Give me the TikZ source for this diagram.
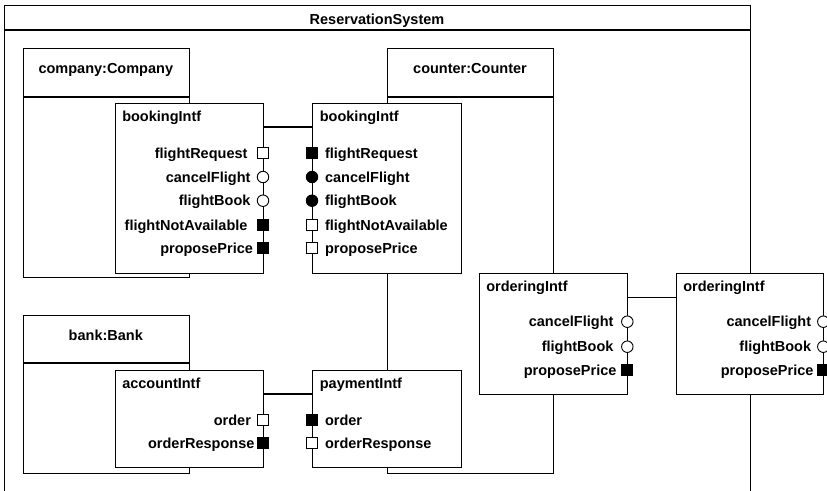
\documentclass[tikz,border=0pt]{standalone}
\usepackage{fontspec}
\setmainfont{Liberation Sans}
\begin{document}
\begin{tikzpicture}[x=1pt,y=-1pt, line width=1.1pt,
  lbl/.style={font=\fontsize{14.5}{16}\selectfont\bfseries, inner sep=0pt},
  box/.style={draw, fill=white, anchor=north west, inner sep=0pt},
  sqw/.style={draw, fill=white, minimum size=11pt, inner sep=0pt, line width=0.9pt},
  sqb/.style={sqw, fill=black},
  ciw/.style={draw, circle, fill=white, minimum size=11.5pt, inner sep=0pt, line width=0.9pt},
  cib/.style={ciw, fill=black},
  divider/.style={line width=1.1pt},
  headdiv/.style={line width=2pt},
]
\clip (0,0) rectangle (827,490);
\fill[white] (0,0) rectangle (827,490);

% system frame
\node[box, minimum width=746pt, minimum height=540pt] (sys) at (4,5) {};
\draw[headdiv] ([yshift=-25pt]sys.north west) -- ([yshift=-25pt]sys.north east);
\node[lbl, anchor=base] (systitle) at (377,24) {ReservationSystem};

% components
\node[box, minimum width=166.3pt, minimum height=229pt] (company) at (22.7,48) {};
\draw[divider] ([yshift=-49pt]company.north west) -- ([yshift=-49pt]company.north east);
\node[lbl, anchor=base] (companyt) at (105.8,73.3) {company:Company};

\node[box, minimum width=166pt, minimum height=425pt] (counter) at (387,48) {};
\draw[divider] ([yshift=-49pt]counter.north west) -- ([yshift=-49pt]counter.north east);
\node[lbl, anchor=base] (countert) at (470,73.3) {counter:Counter};

\node[box, minimum width=166.3pt, minimum height=158pt] (bank) at (22.7,315) {};
\draw[divider] ([yshift=-48pt]bank.north west) -- ([yshift=-48pt]bank.north east);
\node[lbl, anchor=base] (bankt) at (105.8,340.7) {bank:Bank};

% interface boxes
\node[box, minimum width=148pt, minimum height=170pt] (bi1) at (115,103) {};
\node[box, minimum width=148.7pt, minimum height=170pt] (bi2) at (312,103) {};
\node[box, minimum width=148pt, minimum height=97pt] (acc) at (115,370) {};
\node[box, minimum width=148.7pt, minimum height=97pt] (pay) at (312,370) {};
\node[box, minimum width=148.3pt, minimum height=121pt] (ord1) at (479,273) {};
\node[box, minimum width=147pt, minimum height=121pt] (ord2) at (676.3,273) {};

\node[lbl, anchor=base west] (bi1t) at (121.7,121.5) {bookingIntf};
\node[lbl, anchor=base west] (bi2t) at (319.3,121.5) {bookingIntf};
\node[lbl, anchor=base west] (acct) at (121.7,388.5) {accountIntf};
\node[lbl, anchor=base west] (payt) at (319.3,388.5) {paymentIntf};
\node[lbl, anchor=base west] (ord1t) at (485.7,291.5) {orderingIntf};
\node[lbl, anchor=base west] (ord2t) at (682.7,291.5) {orderingIntf};

% connectors
\draw ([yshift=-24pt]bi1.north east) -- ([yshift=-24pt]bi2.north west);
\draw ([yshift=-24pt]acc.north east) -- ([yshift=-24pt]pay.north west);
\draw ([yshift=-24.3pt]ord1.north east) -- ([yshift=-24.3pt]ord2.north west);

% ports: bookingIntf (company)
\node[sqw] (p11) at (263,153) {};
\node[ciw] (p12) at (263,177) {};
\node[ciw] (p13) at (263,200.7) {};
\node[sqb] (p14) at (263,225) {};
\node[sqb] (p15) at (263,248) {};
\node[lbl, anchor=base east] (l11) at (248,158) {flightRequest};
\node[lbl, anchor=base east] (l12) at (251,182) {cancelFlight};
\node[lbl, anchor=base east] (l13) at (251,205.7) {flightBook};
\node[lbl, anchor=base east] (l14) at (248,230) {flightNotAvailable};
\node[lbl, anchor=base east] (l15) at (253.5,253) {proposePrice};

% ports: bookingIntf (counter)
\node[sqb] (p21) at (312,153) {};
\node[cib] (p22) at (312,177) {};
\node[cib] (p23) at (312,200.7) {};
\node[sqw] (p24) at (312,225) {};
\node[sqw] (p25) at (312,248) {};
\node[lbl, anchor=base west] (l21) at (324.5,158) {flightRequest};
\node[lbl, anchor=base west] (l22) at (324.5,182) {cancelFlight};
\node[lbl, anchor=base west] (l23) at (324.5,205.7) {flightBook};
\node[lbl, anchor=base west] (l24) at (324.5,230) {flightNotAvailable};
\node[lbl, anchor=base west] (l25) at (324.5,253) {proposePrice};

% ports: accountIntf
\node[sqw] (p31) at (263,420) {};
\node[sqb] (p32) at (263,443.3) {};
\node[lbl, anchor=base east] (l31) at (251.5,425) {order};
\node[lbl, anchor=base east] (l32) at (255,448.3) {orderResponse};

% ports: paymentIntf
\node[sqb] (p41) at (312,420) {};
\node[sqw] (p42) at (312,443.3) {};
\node[lbl, anchor=base west] (l41) at (324.5,425) {order};
\node[lbl, anchor=base west] (l42) at (324.5,448.3) {orderResponse};

% ports: orderingIntf (counter)
\node[ciw] (p51) at (627.3,321.7) {};
\node[ciw] (p52) at (627.3,346.7) {};
\node[sqb] (p53) at (627.3,370) {};
\node[lbl, anchor=base east] (l51) at (614,326.7) {cancelFlight};
\node[lbl, anchor=base east] (l52) at (614,351.7) {flightBook};
\node[lbl, anchor=base east] (l53) at (617,375) {proposePrice};

% ports: orderingIntf (outer)
\node[ciw] (p61) at (823.3,321.7) {};
\node[ciw] (p62) at (823.3,346.7) {};
\node[sqb] (p63) at (823.3,370) {};
\node[lbl, anchor=base east] (l61) at (811.7,326.7) {cancelFlight};
\node[lbl, anchor=base east] (l62) at (811.7,351.7) {flightBook};
\node[lbl, anchor=base east] (l63) at (814,375) {proposePrice};
\end{tikzpicture}
\end{document}
